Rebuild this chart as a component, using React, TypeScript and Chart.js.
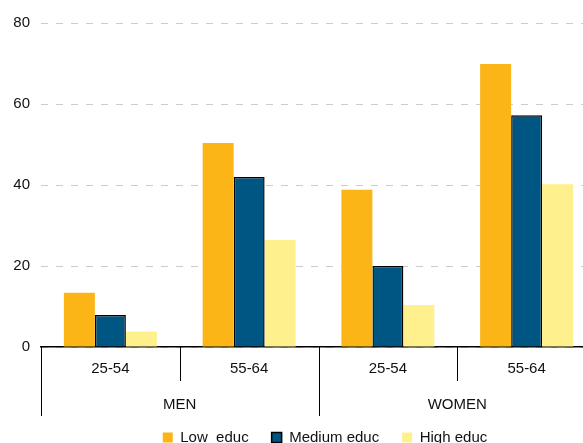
import React, { useEffect, useRef } from "react";
import { Chart, registerables } from "chart.js";

Chart.register(...registerables);

const categories = ["25-54", "55-64", "25-54", "55-64"];
const groups = ["MEN", "WOMEN"];
const lowEduc = [13.4, 50.4, 38.8, 69.9];
const mediumEduc = [7.9, 42, 20, 57.2];
const highEduc = [3.8, 26.4, 10.4, 40.2];
const seriesNames = ["Low  educ", "Medium educ", "High educ"];

const FONT = "'Liberation Sans', Arial, sans-serif";

const groupAxisPlugin = {
  id: "groupAxis",
  afterLayout(chart: any) {
    const lg = chart.legend;
    if (lg) {
      lg.left += 27;
      lg.right += 27;
    }
  },
  afterDraw(chart: any) {
    const ctx = chart.ctx;
    const xs = chart.scales.x;
    const area = chart.chartArea;
    const n = categories.length;
    const w = (area.right - area.left) / n;
    const base = area.bottom;
    ctx.save();
    ctx.strokeStyle = "#000";
    ctx.lineWidth = 1;
    for (let i = 0; i <= n; i++) {
      const bx = Math.round(area.left + i * w) + 0.5;
      const isGroupEdge = i % 2 === 0;
      ctx.beginPath();
      ctx.moveTo(bx, base);
      ctx.lineTo(bx, base + (isGroupEdge ? 69 : 34));
      ctx.stroke();
    }
    ctx.fillStyle = "#111";
    ctx.font = "15px " + FONT;
    ctx.textAlign = "center";
    ctx.textBaseline = "middle";
    groups.forEach((g, gi) => {
      const cx = (xs.getPixelForValue(gi * 2) + xs.getPixelForValue(gi * 2 + 1)) / 2;
      ctx.fillText(g, cx, base + 58);
    });
    ctx.restore();
  },
};

export default function App() {
  const ref = useRef<HTMLCanvasElement>(null);
  useEffect(() => {
    if (!ref.current) return;
    const chart = new Chart(ref.current, {
      type: "bar",
      data: {
        labels: categories,
        datasets: [
          {
            label: seriesNames[0],
            data: lowEduc,
            backgroundColor: "#FBB517",
            borderWidth: 0,
          },
          {
            label: seriesNames[1],
            data: mediumEduc,
            backgroundColor: "#005682",
            borderColor: "#000",
            borderWidth: 1.5,
          },
          {
            label: seriesNames[2],
            data: highEduc,
            backgroundColor: "#FFF08E",
            borderWidth: 0,
          },
        ],
      },
      options: {
        responsive: false,
        animation: false,
        devicePixelRatio: 1,
        layout: { padding: { top: 23, right: 54, left: 0, bottom: 0 } },
        datasets: { bar: { categoryPercentage: 0.67, barPercentage: 1.0 } },
        scales: {
          x: {
            grid: { display: false, drawTicks: false },
            border: { display: true, color: "#000", width: 1.5 },
            ticks: { color: "#111", font: { family: FONT, size: 15 }, padding: 13 },
            afterFit: (s: any) => {
              s.height = 60;
            },
          },
          y: {
            min: 0,
            max: 80,
            ticks: { stepSize: 20, color: "#111", font: { family: FONT, size: 15 }, padding: 11 },
            grid: { color: "#cccccc", lineWidth: 1, drawTicks: false },
            border: { display: false, dash: [7, 8] },
            afterFit: (s: any) => {
              s.width = 41;
            },
          },
        },
        plugins: {
          legend: {
            position: "bottom",
            labels: {
              boxWidth: 10,
              boxHeight: 10,
              padding: 23,
              color: "#111",
              font: { family: FONT, size: 15 },
            },
          },
          tooltip: { enabled: false },
        },
      },
      plugins: [groupAxisPlugin],
    });
    return () => chart.destroy();
  }, []);
  return (
    <div style={{ position: "fixed", left: 0, top: 0, width: 583, height: 443, overflow: "hidden", background: "#fff" }}>
      <canvas ref={ref} width={650} height={455} style={{ display: "block" }} />
    </div>
  );
}
